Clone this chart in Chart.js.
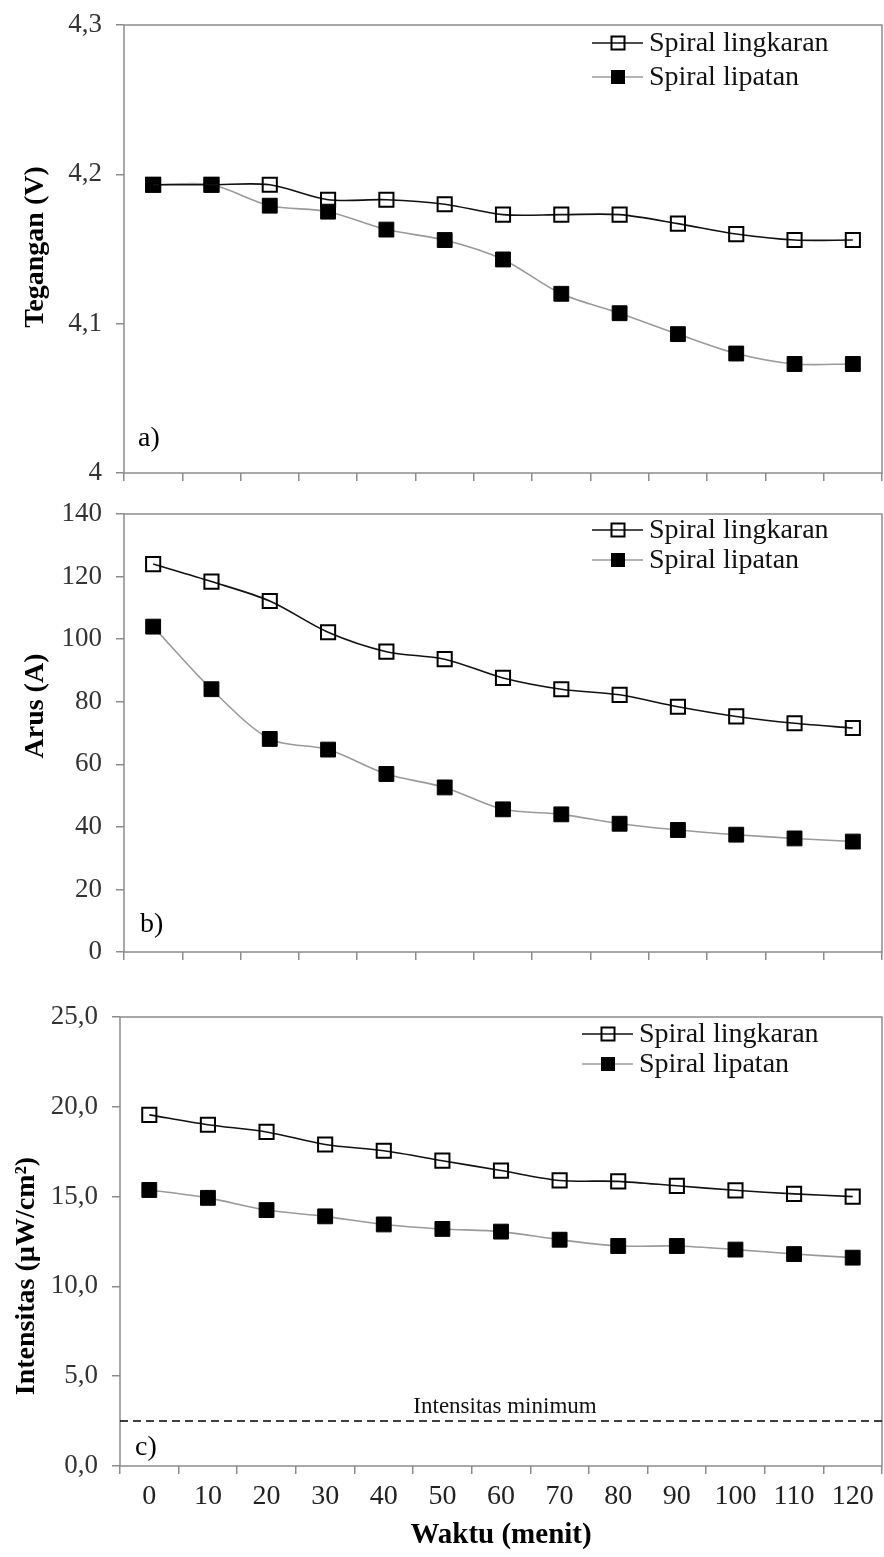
<!DOCTYPE html>
<html>
<head>
<meta charset="utf-8">
<script src="https://cdn.jsdelivr.net/npm/chart.js@4.4.1/dist/chart.umd.min.js"></script>
<style>
  html, body { margin: 0; padding: 0; background: #fff; }
  #wrap { position: relative; width: 884px; height: 1557px; overflow: hidden; }
  .panel { position: absolute; left: 0; width: 884px; }
  canvas { display: block; }
</style>
</head>
<body>
<div id="wrap">
  <div class="panel" style="top:0px"><canvas id="chart-a" width="884" height="490"></canvas></div>
  <div class="panel" style="top:490px"><canvas id="chart-b" width="884" height="490"></canvas></div>
  <div class="panel" style="top:980px"><canvas id="chart-c" width="884" height="577"></canvas></div>
</div>
<script>
// waktu (menit)
const waktu = ['0', '10', '20', '30', '40', '50', '60', '70', '80', '90', '100', '110', '120'];
const seriesNames = ['Spiral lingkaran', 'Spiral lipatan'];

// a) tegangan (V)
const teganganLingkaran = [4.193, 4.193, 4.193, 4.183, 4.183, 4.180, 4.173, 4.173, 4.173, 4.167, 4.160, 4.156, 4.156];
const teganganLipatan = [4.193, 4.193, 4.179, 4.175, 4.163, 4.156, 4.143, 4.120, 4.107, 4.093, 4.080, 4.073, 4.073];
const ticksTegangan = ['4', '4,1', '4,2', '4,3'];

// b) arus (A)
const arusLingkaran = [124, 118.4, 112.2, 102.2, 96, 93.6, 87.6, 84, 82.2, 78.4, 75.3, 73.1, 71.6];
const arusLipatan = [104, 84, 68.1, 64.7, 56.9, 52.6, 45.6, 44, 41, 39, 37.5, 36.3, 35.3];
const ticksArus = ['0', '20', '40', '60', '80', '100', '120', '140'];

// c) intensitas (uW/cm2)
const intensitasLingkaran = [19.55, 19.0, 18.6, 17.9, 17.55, 17.0, 16.45, 15.9, 15.85, 15.6, 15.35, 15.15, 15.0];
const intensitasLipatan = [15.37, 14.93, 14.25, 13.9, 13.45, 13.2, 13.05, 12.6, 12.25, 12.25, 12.05, 11.8, 11.6];
const ticksIntensitas = ['0,0', '5,0', '10,0', '15,0', '20,0', '25,0'];
const intensitasMinimum = 2.5;

const serif = '"Liberation Serif", "Times New Roman", serif';
const axisGray = '#8c8c8c';

// border round the plot area
const framePlugin = {
    id: 'frame',
    beforeDatasetsDraw(chart) {
        const a = chart.chartArea;
        const ctx = chart.ctx;
        ctx.save();
        ctx.strokeStyle = axisGray;
        ctx.lineWidth = 1.5;
        ctx.strokeRect(a.left, a.top, a.right - a.left, a.bottom - a.top);
        ctx.restore();
    }
};

// dashed reference line (only panel c uses it)
const minLinePlugin = {
    id: 'minLine',
    beforeDatasetsDraw(chart, args, opts) {
        if (opts.value == null) return;
        const a = chart.chartArea;
        const y = chart.scales.y.getPixelForValue(opts.value);
        const ctx = chart.ctx;
        ctx.save();
        ctx.strokeStyle = '#000';
        ctx.lineWidth = 1.5;
        ctx.setLineDash([8, 5]);
        ctx.beginPath();
        ctx.moveTo(a.left, y);
        ctx.lineTo(a.right, y);
        ctx.stroke();
        ctx.setLineDash([]);
        ctx.fillStyle = '#111';
        ctx.font = '23px ' + serif;
        ctx.textAlign = 'center';
        ctx.textBaseline = 'alphabetic';
        ctx.fillText(opts.label, opts.labelX, y - 8);
        ctx.restore();
    }
};

// y title, panel tag and the line+marker legend
const notesPlugin = {
    id: 'notes',
    afterDraw(chart, args, opts) {
        const ctx = chart.ctx;
        ctx.save();
        ctx.translate(opts.titleX, opts.titleY);
        ctx.rotate(-Math.PI / 2);
        ctx.font = 'bold 28px ' + serif;
        ctx.fillStyle = '#000';
        ctx.textAlign = 'center';
        ctx.textBaseline = 'alphabetic';
        ctx.fillText(opts.title, 0, 0);
        ctx.restore();

        ctx.save();
        ctx.font = '28px ' + serif;
        ctx.fillStyle = '#000';
        ctx.textBaseline = 'alphabetic';
        ctx.fillText(opts.tag, opts.tagX, opts.tagY);

        chart.data.datasets.forEach((ds, i) => {
            const y = opts.legendY + i * opts.legendGap;
            const x = opts.legendX;
            ctx.strokeStyle = ds.borderColor;
            ctx.lineWidth = ds.borderWidth;
            ctx.beginPath();
            ctx.moveTo(x, y);
            ctx.lineTo(x + 51, y);
            ctx.stroke();
            const s = 13;
            ctx.fillStyle = ds.pointBackgroundColor;
            ctx.fillRect(x + 26 - s / 2, y - s / 2, s, s);
            ctx.strokeStyle = ds.pointBorderColor;
            ctx.lineWidth = ds.pointBorderWidth;
            ctx.strokeRect(x + 26 - s / 2, y - s / 2, s, s);
            ctx.fillStyle = '#111';
            ctx.font = '28px ' + serif;
            ctx.textBaseline = 'middle';
            ctx.fillText(ds.label, x + 57, y + 1);
        });
        ctx.restore();
    }
};

function makeChart(id, cfg) {
    const ctx = document.getElementById(id);
    return new Chart(ctx, {
        type: 'line',
        data: {
            labels: waktu,
            datasets: [{
                label: seriesNames[0],
                data: cfg.lingkaran,
                borderColor: '#111',
                borderWidth: 1.6,
                pointStyle: 'rect',
                pointRadius: 10,
                pointBackgroundColor: 'rgba(255,255,255,0)',
                pointBorderColor: '#000',
                pointBorderWidth: 2,
                tension: 0.3
            }, {
                label: seriesNames[1],
                data: cfg.lipatan,
                borderColor: '#9a9a9a',
                borderWidth: 1.6,
                pointStyle: 'rect',
                pointRadius: 10.5,
                pointBackgroundColor: '#000',
                pointBorderColor: '#000',
                pointBorderWidth: 1,
                tension: 0.3
            }]
        },
        options: {
            responsive: false,
            animation: false,
            layout: { autoPadding: false, padding: { top: cfg.padTop, right: 2, left: 0, bottom: 0 } },
            plugins: {
                legend: { display: false },
                tooltip: { enabled: false },
                minLine: cfg.minLine || {},
                notes: cfg.notes
            },
            scales: {
                x: {
                    type: 'category',
                    offset: true,
                    border: { display: false },
                    grid: { offset: true, drawOnChartArea: false, tickLength: 8, color: axisGray, lineWidth: 1.5 },
                    ticks: {
                        display: cfg.showX,
                        padding: 6,
                        color: '#222',
                        font: { family: serif, size: 28 }
                    },
                    title: {
                        display: cfg.showX,
                        text: 'Waktu (menit)',
                        color: '#000',
                        font: { family: serif, size: 29, weight: 'bold' },
                        padding: { top: 4, bottom: 4 }
                    },
                    afterFit: (s) => {
                        s.height = cfg.xHeight;
                        s.paddingLeft = 0; s.paddingRight = 0;
                    }
                },
                y: {
                    min: cfg.min,
                    max: cfg.max,
                    border: { display: false },
                    grid: { drawOnChartArea: false, tickLength: 8, color: axisGray, lineWidth: 1.5 },
                    ticks: {
                        stepSize: cfg.step,
                        padding: 14,
                        color: '#333',
                        font: { family: serif, size: 27 },
                        callback: (v, i) => cfg.tickLabels[i]
                    },
                    afterFit: (s) => {
                        s.width = cfg.yWidth;
                        s.paddingTop = 0; s.paddingBottom = 0;
                    }
                }
            }
        },
        plugins: [framePlugin, minLinePlugin, notesPlugin]
    });
}

makeChart('chart-a', {
    lingkaran: teganganLingkaran, lipatan: teganganLipatan,
    min: 4, max: 4.3, step: 0.1, tickLabels: ticksTegangan,
    padTop: 25, xHeight: 17, yWidth: 124, showX: false,
    notes: { title: 'Tegangan (V)', titleX: 43, titleY: 247, tag: 'a)', tagX: 138, tagY: 446,
             legendX: 592, legendY: 43, legendGap: 34 }
});

makeChart('chart-b', {
    lingkaran: arusLingkaran, lipatan: arusLipatan,
    min: 0, max: 140, step: 20, tickLabels: ticksArus,
    padTop: 24, xHeight: 28, yWidth: 124, showX: false,
    notes: { title: 'Arus (A)', titleX: 43, titleY: 216, tag: 'b)', tagX: 140, tagY: 442,
             legendX: 592, legendY: 40, legendGap: 30 }
});

makeChart('chart-c', {
    lingkaran: intensitasLingkaran, lipatan: intensitasLipatan,
    min: 0, max: 25, step: 5, tickLabels: ticksIntensitas,
    padTop: 37, xHeight: 91, yWidth: 120, showX: true,
    minLine: { value: intensitasMinimum, label: 'Intensitas minimum', labelX: 505 },
    notes: { title: 'Intensitas (µW/cm²)', titleX: 34, titleY: 296, tag: 'c)', tagX: 135, tagY: 475,
             legendX: 582, legendY: 54, legendGap: 30 }
});
</script>
</body>
</html>
